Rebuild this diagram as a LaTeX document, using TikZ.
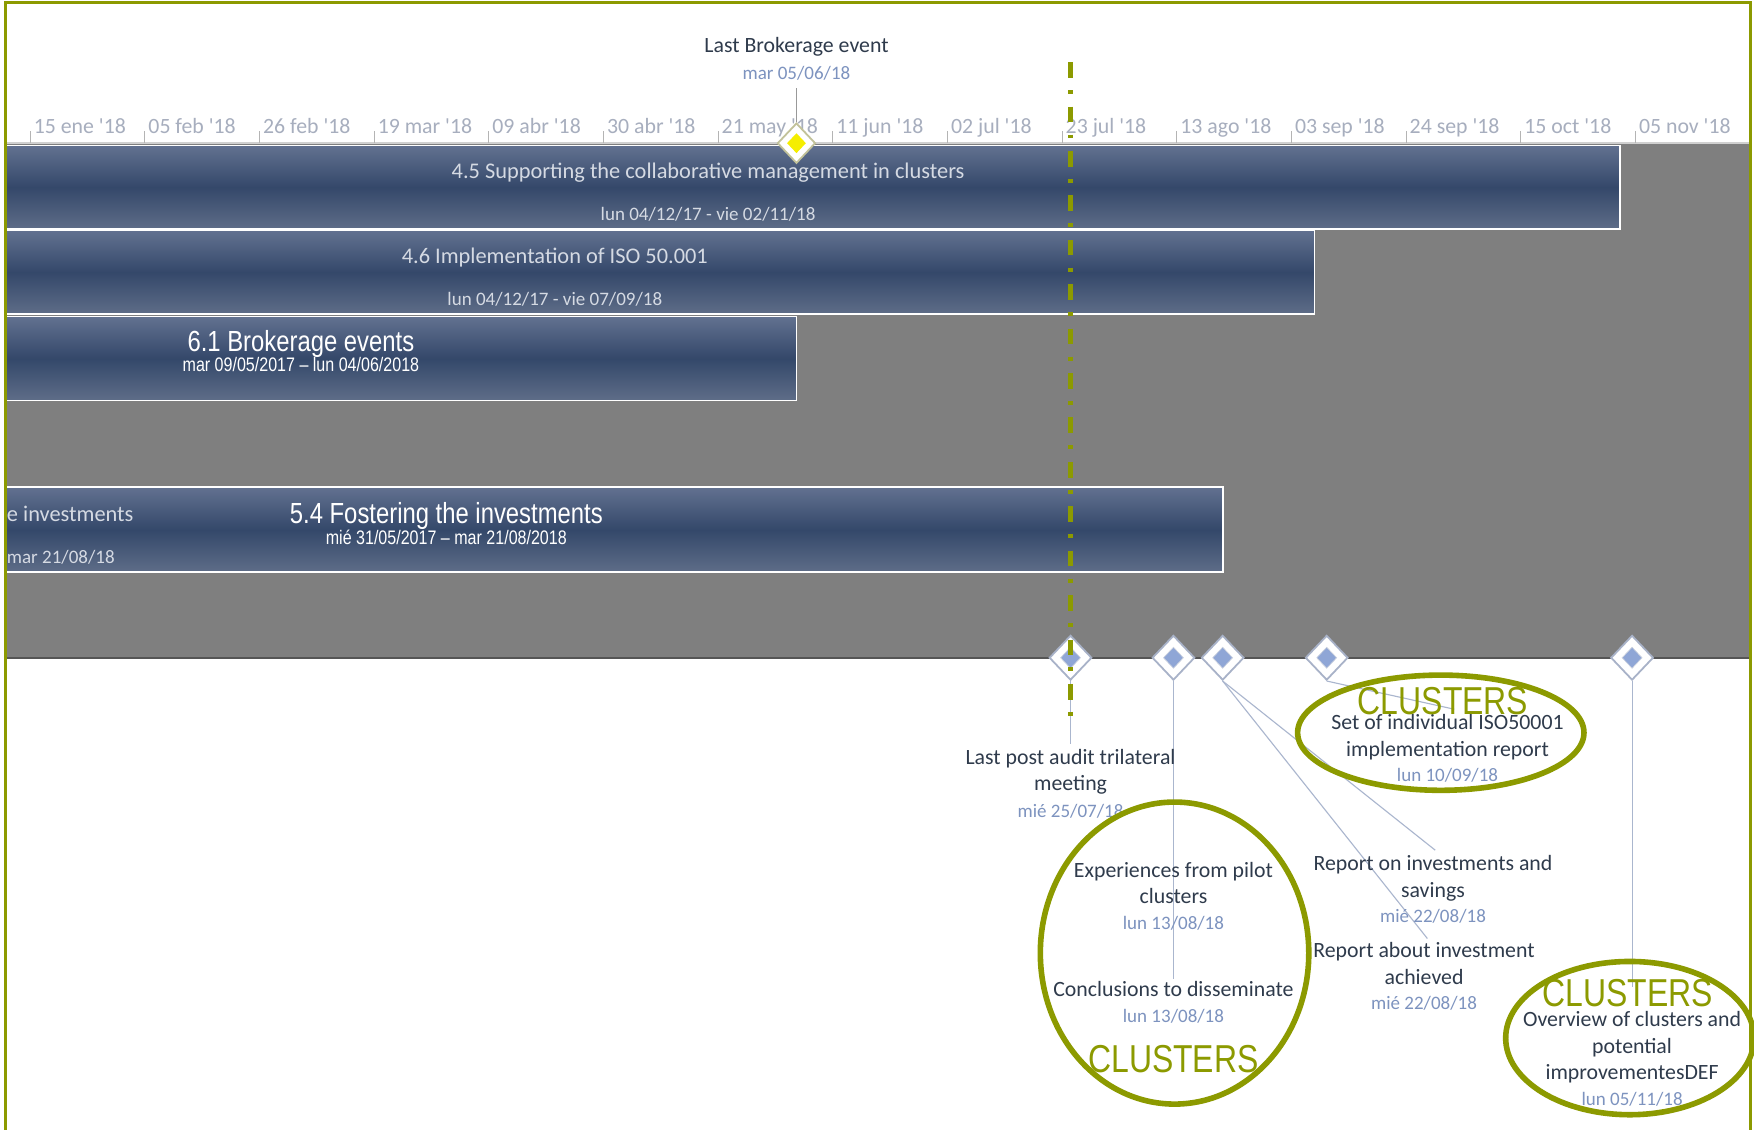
\documentclass[tikz,border=0pt]{standalone}
\usepackage{fontspec}
\setmainfont{Carlito}[Ligatures=TeXOff]
\newfontfamily\narrowfont[FakeStretch=0.82]{Liberation Sans}
\usetikzlibrary{shapes.geometric}
\definecolor{olv}{HTML}{8C9A00}
\definecolor{tickc}{HTML}{A7AEBE}
\definecolor{tickline}{HTML}{B4B4B4}
\definecolor{titlec}{HTML}{2F3B4C}
\definecolor{datec}{HTML}{7D93BF}
\definecolor{bartxt}{HTML}{D5DAE3}
\definecolor{bartop}{HTML}{627190}
\definecolor{barmid}{HTML}{34486A}
\definecolor{barbot}{HTML}{5E6D88}
\definecolor{bggray}{HTML}{7F7F7F}
\definecolor{bgedge}{HTML}{555555}
\definecolor{axisc}{HTML}{D0D0D0}
\definecolor{msedge}{HTML}{A8B2C8}
\definecolor{msfill}{HTML}{8FA6D6}
\definecolor{ymedge}{HTML}{C2C29A}
\definecolor{ymfill}{HTML}{F5EE00}
\definecolor{connc}{HTML}{AAB6CE}
\begin{document}
\begin{tikzpicture}[x=1pt,y=-1pt,
  ticklbl/.style={anchor=base west, inner sep=0, text=tickc, font=\fontsize{19.5}{22}\selectfont},
  mstitle/.style={anchor=base, inner sep=0, text=titlec, font=\fontsize{19.5}{22}\selectfont},
  msdate/.style={anchor=base, inner sep=0, text=datec, font=\fontsize{17}{20}\selectfont},
  bartitle/.style={anchor=base, inner sep=0, text=bartxt, font=\fontsize{20}{22}\selectfont},
  bardate/.style={anchor=base, inner sep=0, text=bartxt, font=\fontsize{17}{20}\selectfont},
  nartitle/.style={anchor=base, inner sep=0, text=white, font=\narrowfont\fontsize{26}{28}\selectfont},
  nardate/.style={anchor=base, inner sep=0, text=white, font=\narrowfont\fontsize{17.5}{20}\selectfont},
  clus/.style={anchor=base, inner sep=0, text=olv, font=\narrowfont\fontsize{34.8}{36}\selectfont},
  barbox/.style={anchor=north west, inner sep=0, outer sep=0, draw=white, line width=1.5, top color=bartop, bottom color=barbot, middle color=barmid},
  msout/.style={shape=diamond, inner sep=0, minimum width=38, minimum height=40, draw=msedge, fill=white, line width=1.6},
  msin/.style={shape=diamond, inner sep=0, minimum width=18, minimum height=19, fill=msfill, draw=msedge!60!white, line width=0.6},
  conn/.style={draw=connc, line width=1},
  clring/.style={shape=ellipse, inner sep=0, draw=olv, line width=5}
]
\clip (0,0) rectangle (1568,1009.3);
\fill[white] (0,0) rectangle (1568,1009.3);
% gray chart area
\fill[bggray] (5,128) rectangle (1565,588);
\draw[bgedge, line width=2] (5,588) -- (1565,588);
\draw[axisc, line width=1.5] (5,128) -- (1565,128);
% timescale
\foreach \i/\lab in {0/15 ene '18,1/05 feb '18,2/26 feb '18,3/19 mar '18,4/09 abr '18,5/30 abr '18,6/21 may '18,7/11 jun '18,8/02 jul '18,9/23 jul '18,10/13 ago '18,11/03 sep '18,12/24 sep '18,13/15 oct '18,14/05 nov '18}{
  \pgfmathsetmacro{\xx}{27+102.5*\i}
  \draw[tickline, line width=1] (\xx,128) -- (\xx,117);
  \node[ticklbl] (t\i) at (\xx+3,119) {\lab};
}
\draw[tickline, line width=1] (1564,128) -- (1564,117);
% bars
\node[barbox, minimum width=1443, minimum height=75] (b45) at (5,130) {};
\node[barbox, minimum width=1170, minimum height=75] (b46) at (5,206) {};
\node[barbox, minimum width=707, minimum height=75] (b61) at (5,283) {};
\node[barbox, minimum width=1088, minimum height=76] (b54) at (5,435.5) {};
\node[bartitle] (b45t) at (633,160) {4.5 Supporting the collaborative management in clusters};
\node[bardate] (b45d) at (633,197.5) {lun 04/12/17 - vie 02/11/18};
\node[bartitle] (b46t) at (496,236) {4.6 Implementation of ISO 50.001};
\node[bardate] (b46d) at (496,273.5) {lun 04/12/17 - vie 07/09/18};
\node[nartitle] (b61t) at (269,314) {6.1 Brokerage events};
\node[nardate] (b61d) at (269,332) {mar 09/05/2017 – lun 04/06/2018};
\node[bartitle, anchor=base west] (b54x) at (6,466) {e investments};
\node[bardate, anchor=base west] (b54y) at (6,503.5) {mar 21/08/18};
\node[nartitle] (b54t) at (399,468) {5.4 Fostering the investments};
\node[nardate] (b54d) at (399,487) {mié 31/05/2017 – mar 21/08/2018};
% top milestone
\node[mstitle] (lbe) at (712,47) {Last Brokerage event};
\node[msdate] (lbed) at (712,71.5) {mar 05/06/18};
\node[msout, draw=ymedge, minimum width=34, minimum height=36] (mtop) at (712,128) {};
\node[msin, fill=ymfill, draw=none, minimum width=17, minimum height=18] (mtopi) at (712,128) {};
\coordinate (ctop) at (712,79);
\draw[conn, draw=gray!80] (ctop) -- (mtop.north);
% bottom milestones
\foreach \n/\xx in {1/957,2/1049,3/1093,4/1186,5/1459}{
  \node[msout] (m\n) at (\xx,588) {};
  \node[msin] (mi\n) at (\xx,588) {};
}
\coordinate (c1) at (957,665);
\coordinate (c2) at (1049,875);
\coordinate (c3a) at (1283,760);
\coordinate (c3b) at (1276,839);
\coordinate (c4) at (1300,634);
\coordinate (c5) at (1459,882);
\draw[conn] (m1.south) -- (c1);
\draw[conn] (m2.south) -- (c2);
\draw[conn] (m3.south) -- (c3a);
\draw[conn] (m3.south) -- (c3b);
\draw[conn] (m4.south) -- (c4);
\draw[conn] (m5.south) -- (c5);
% milestone labels
\node[mstitle] (l1a) at (957,683) {Last post audit trilateral};
\node[mstitle] (l1b) at (957,707) {meeting};
\node[msdate] (l1c) at (957,730.5) {mié 25/07/18};
\node[mstitle] (l2a) at (1049,784) {Experiences from pilot};
\node[mstitle] (l2b) at (1049,808) {clusters};
\node[msdate] (l2c) at (1049,830.5) {lun 13/08/18};
\node[mstitle] (l2d) at (1049,891) {Conclusions to disseminate};
\node[msdate] (l2e) at (1049,914.5) {lun 13/08/18};
\node[mstitle] (l3a) at (1281,778) {Report on investments and};
\node[mstitle] (l3b) at (1281,802) {savings};
\node[msdate] (l3c) at (1281,824.5) {mié 22/08/18};
\node[mstitle] (l3d) at (1273,856) {Report about investment};
\node[mstitle] (l3e) at (1273,880) {achieved};
\node[msdate] (l3f) at (1273,902.5) {mié 22/08/18};
\node[mstitle] (l4a) at (1294,652) {Set of individual ISO50001};
\node[mstitle] (l4b) at (1294,676) {implementation report};
\node[msdate] (l4c) at (1294,698.5) {lun 10/09/18};
\node[mstitle] (l5a) at (1459,918) {Overview of clusters and};
\node[mstitle] (l5b) at (1459,942) {potential};
\node[mstitle] (l5c) at (1459,965) {improvementesDEF};
\node[msdate] (l5d) at (1459,988.5) {lun 05/11/18};
% status line
\coordinate (sl1) at (957,55.6);
\coordinate (sl2) at (957,640);
\draw[olv, line width=4, dash pattern=on 14 off 11 on 3.5 off 11.2] (sl1) -- (sl2);
% highlight ellipses
\node[clring, minimum width=256, minimum height=103] (e1) at (1288,655) {};
\node[clring, minimum width=240, minimum height=270] (e2) at (1050,852) {};
\node[clring, minimum width=222, minimum height=137] (e3) at (1457,928) {};
\node[clus] (k1) at (1290,638.5) {CLUSTERS};
\node[clus] (k2) at (1049,958.5) {CLUSTERS};
\node[clus] (k3) at (1455,899.5) {CLUSTERS};
% frame
\draw[olv, line width=3] (5,1015) -- (5,2) -- (1565,2) -- (1565,1015);
\end{tikzpicture}
\end{document}
